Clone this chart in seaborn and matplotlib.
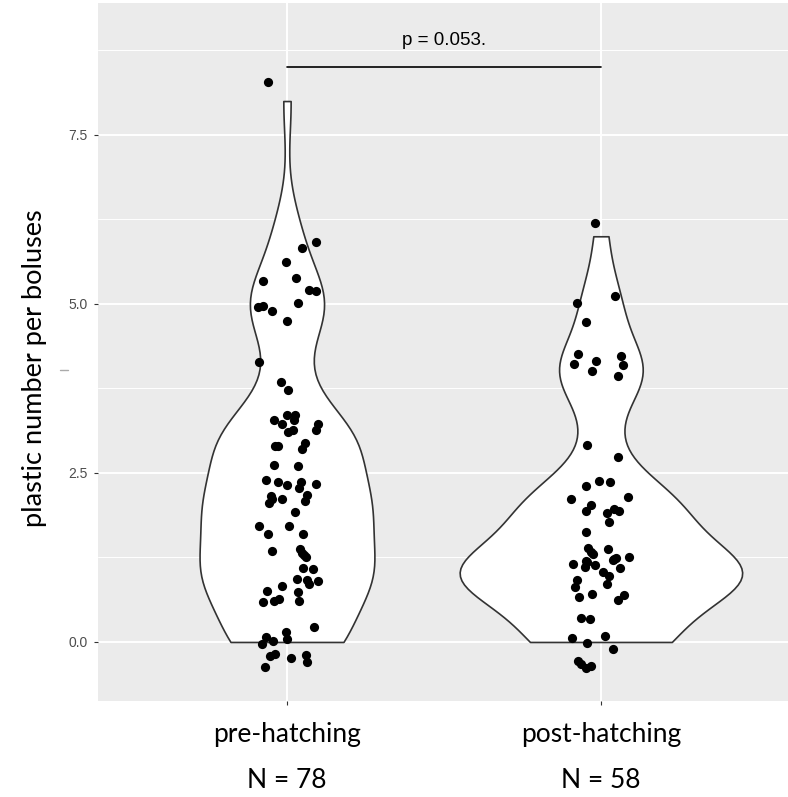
import numpy as np
import pandas as pd
import matplotlib
matplotlib.use("Agg")
import matplotlib.pyplot as plt
from matplotlib.lines import Line2D
from matplotlib.ticker import FixedLocator, FormatStrFormatter
from matplotlib.transforms import blended_transform_factory
import seaborn as sns

# Groups and sample sizes
groups = ["pre-hatching", "post-hatching"]
n_labels = ["N = 78", "N = 58"]
y_ticks = [0.0, 2.5, 5.0, 7.5]
y_minor = [1.25, 3.75, 6.25, 8.75]
p_label = "p = 0.053."
bracket_y = 8.5
p_text_y = 8.9

# Plastic items per bolus, shown jittered (vertical jitter about integer counts)
pre_y = [8.28,
         5.92, 5.82, 5.62, 5.34, 5.38, 5.21, 5.19, 5.01, 4.95, 4.97, 4.89, 4.74, 4.14,
         3.85, 3.72, 3.29, 3.23, 3.36, 3.36, 3.29, 3.23, 3.13, 3.11, 3.13, 2.90, 2.90,
         2.94, 2.86, 2.61, 2.60, 2.39, 2.36, 2.32, 2.36, 2.28, 2.33, 2.16, 2.11, 2.06,
         2.12, 2.17, 2.08, 1.92, 1.71, 1.71,
         1.59, 1.60, 1.35, 1.37, 1.31, 1.26, 1.10, 1.08, 0.93, 0.91, 0.86, 0.90, 0.83,
         0.76, 0.74, 0.59, 0.61, 0.63, 0.61, 0.22, 0.15, 0.05, 0.07, -0.03, 0.02,
         -0.21, -0.18, -0.24, -0.20, -0.30, -0.37,
         1.28]
pre_dx = [-0.060,
          0.091, 0.047, -0.003, -0.075, 0.029, 0.070, 0.094, 0.034, -0.093, -0.075, -0.047, 0.000, -0.089,
          -0.019, 0.002, -0.040, -0.017, -0.001, 0.025, 0.022, 0.098, 0.094, 0.004, 0.018, -0.038, -0.028,
          0.057, 0.049, -0.040, 0.036, -0.067, -0.030, -0.001, 0.044, 0.038, 0.092, -0.052, -0.049, -0.056,
          -0.016, 0.065, 0.057, 0.025, -0.088, 0.006,
          -0.059, 0.050, -0.047, 0.041, 0.049, 0.059, 0.052, 0.084, 0.031, 0.065, 0.071, 0.100, -0.017,
          -0.065, 0.036, -0.075, -0.041, -0.024, 0.038, 0.086, -0.003, -0.001, -0.068, -0.081, -0.046,
          -0.054, -0.038, 0.013, 0.061, 0.065, -0.070,
          0.054]

post_y = [6.20, 5.12, 5.01, 4.73, 4.26, 4.11, 4.15, 4.01, 4.23, 4.09, 3.94,
          2.92, 2.74, 2.31, 2.38, 2.37, 2.11, 2.15, 2.02, 1.94, 1.91, 1.96, 1.94, 1.77, 1.62,
          1.39, 1.30, 1.38, 1.16, 1.20, 1.11, 1.14, 1.21, 1.24, 1.26, 1.09, 1.04, 0.97, 0.85,
          0.92, 0.81, 0.67, 0.71, 0.62, 0.69,
          0.35, 0.34, 0.06, -0.01, 0.09, -0.10, -0.28, -0.32, -0.39, -0.35,
          1.33, 1.18, 1.23]
post_dx = [-0.018, 0.045, -0.076, -0.047, -0.073, -0.086, -0.015, -0.027, 0.064, 0.071, 0.056,
           -0.045, 0.053, -0.048, -0.005, 0.029, -0.095, 0.086, -0.030, -0.046, 0.018, 0.043, 0.058, 0.026, -0.048,
           -0.040, -0.025, 0.023, -0.088, -0.048, -0.051, -0.019, 0.037, 0.048, 0.089, 0.061, 0.007, 0.026, 0.020,
           -0.077, -0.083, -0.070, -0.027, 0.053, 0.074,
           -0.062, -0.035, -0.091, -0.044, 0.012, 0.039, -0.072, -0.064, -0.046, -0.033,
           -0.032, -0.045, 0.042]

# Long-format table: counts are the integer values underneath the jitter
pts = pd.DataFrame({
    "group": [groups[0]] * len(pre_y) + [groups[1]] * len(post_y),
    "shown": pre_y + post_y,
    "xpos": [0 + d for d in pre_dx] + [1 + d for d in post_dx],
})
pts["count"] = np.round(pts["shown"]).astype(float)

sns.set_style("darkgrid", {"axes.facecolor": "#EBEBEB", "grid.color": "white"})

fig = plt.figure(figsize=(7.88, 7.97), dpi=100)
ax = fig.add_axes([98 / 788, 96 / 797, 690 / 788, 698 / 797])

sns.violinplot(data=pts, x="group", y="count", order=groups, cut=0, inner=None,
               density_norm="area", width=0.9, bw_method="scott", bw_adjust=0.73,
               color="white", saturation=1, linecolor="#333333", linewidth=1.2, ax=ax)
sns.scatterplot(data=pts, x="xpos", y="shown", color="black", s=44, linewidth=0,
                legend=False, zorder=3, ax=ax)

# Significance bracket
ax.plot([0, 1], [bracket_y, bracket_y], color="black", lw=1.2)
ax.text(0.5, p_text_y, p_label, ha="center", va="center", fontsize=13.5,
        family="Liberation Sans", color="black")

ax.set_xlim(-0.602, 1.596)
ax.set_ylim(-0.873, 9.45)

ax.yaxis.set_major_locator(FixedLocator(y_ticks))
ax.yaxis.set_minor_locator(FixedLocator(y_minor))
ax.yaxis.set_major_formatter(FormatStrFormatter("%.1f"))
ax.set_xticks([0, 1])
ax.set_xticklabels(groups)
ax.grid(which="major", color="white", lw=1.4)
ax.grid(which="minor", axis="y", color="white", lw=0.7)
ax.set_axisbelow(True)
for s in ax.spines.values():
    s.set_visible(False)

ax.tick_params(axis="both", which="major", bottom=True, left=True, length=3,
               width=0.8, color="#333333", direction="out")
ax.tick_params(axis="y", which="minor", length=0)
ax.tick_params(axis="y", which="major", labelsize=10, labelcolor="#4D4D4D", pad=4.5)
ax.tick_params(axis="x", which="major", labelsize=19, labelcolor="black", pad=12)
for lab in ax.get_yticklabels():
    lab.set_family("Liberation Sans")
for lab in ax.get_xticklabels():
    lab.set_family("Lato")
ax.set_xlabel("")
ax.set_ylabel("")

# Sample sizes under the group names
tr = blended_transform_factory(ax.transData, fig.transFigure)
for i, lab in enumerate(n_labels):
    ax.text(i, 1 - 780 / 797, lab, transform=tr, ha="center", va="center",
            fontsize=19, family="Lato", color="black")

fig.text(35 / 788, 1 - 368 / 797, "plastic number per boluses", rotation=90,
         ha="center", va="center", fontsize=19.5, family="Lato", color="black")
fig.add_artist(Line2D([60 / 788, 68 / 788], [1 - 370 / 797] * 2, color="#AAAAAA", lw=1))

fig.savefig("out.png", dpi=100)
